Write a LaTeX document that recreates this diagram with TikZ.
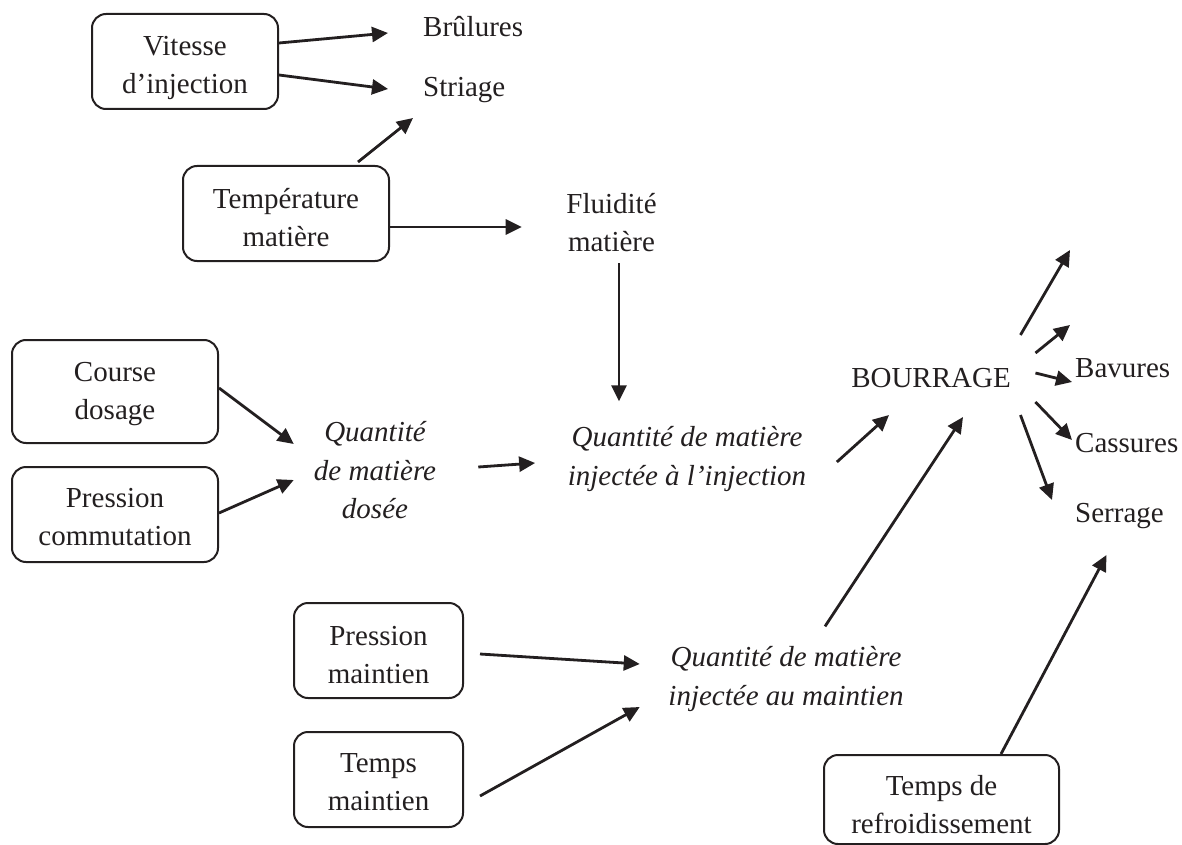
\documentclass[tikz,border=0pt]{standalone}
\usepackage{fontspec}
\setmainfont{Liberation Serif}
\usetikzlibrary{arrows.meta,% filled arrow tips
calc}%                  offsets from node anchors
\definecolor{ink}{HTML}{231F20}
\newcommand\abaisse[1]{\rule{0pt}{#1pt}}% taller first line, text sits lower in its box
\tikzset{every node/.style={font=\fontsize{29}{38.5}\selectfont, text=ink, inner sep=0pt},
  param/.style={draw=ink, line width=2pt, rounded corners=14pt, align=center},
  grandeur/.style={align=center, font=\fontsize{29}{38.5}\selectfont\itshape},
  fleche/.style={draw=ink, line width=2.8pt, -{Triangle[length=16pt,width=15pt]}}}

\begin{document}
\begin{tikzpicture}[x=1pt,y=-1pt]
    \useasboundingbox (0,0) rectangle (1182,845);
    % parametres
    \node[param, minimum width=186pt, minimum height=95pt] (vitesse) at (185,61.5) {\abaisse{31.8}Vitesse\\d’injection};
    \node[param, minimum width=206pt, minimum height=95pt] (temperature) at (286,213.5) {\abaisse{27.8}Température\\matière};
    \node[param, minimum width=206pt, minimum height=103pt] (course) at (115,391.5) {\abaisse{23.8}Course\\dosage};
    \node[param, minimum width=206pt, minimum height=95pt] (commutation) at (115,514.5) {\abaisse{23.8}Pression\\commutation};
    \node[param, minimum width=169pt, minimum height=95pt] (pmaintien) at (378.5,650.5) {\abaisse{27.8}Pression\\maintien};
    \node[param, minimum width=169pt, minimum height=95pt] (tmaintien) at (378.5,779.5) {\abaisse{23.8}Temps\\maintien};
    \node[param, minimum width=235pt, minimum height=89pt] (refroid) at (941.5,799.5) {\abaisse{29.8}Temps de\\refroidissement};
    % grandeurs et defauts
    \node[anchor=base west] (brulures) at (423,37) {Brûlures};
    \node[anchor=base west] (striage) at (423,97) {Striage};
    \node[align=center] (fluidite) at (611.5,222.5) {Fluidité\\matière};
    \node[grandeur] (dosee) at (375,470.5) {Quantité\\de matière\\dosée};
    \node[grandeur] (injection) at (687,459) {Quantité de matière\\injectée à l’injection};
    \node[grandeur] (maintien) at (786,679) {Quantité de matière\\injectée au maintien};
    \node[anchor=base] (bourrage) at (931,387) {BOURRAGE};
    \node[anchor=base west] (bavures) at (1075,377) {Bavures};
    \node[anchor=base west] (cassures) at (1075,452) {Cassures};
    \node[anchor=base west] (serrage) at (1075,522) {Serrage};
    \coordinate (defaut1) at (1070,250);
    \coordinate (defaut2) at (1070,325);
    % haut
    \draw[fleche] ($(vitesse.east)+(0,-18.5)$) -- ($(brulures.base west)+(-35,-4)$);
    \draw[fleche] ($(vitesse.east)+(0,13.5)$) -- ($(striage.base west)+(-35,-8)$);
    \draw[fleche] ($(temperature.north)+(72,-3)$) -- ($(striage.base west)+(-10,21)$);
    \draw[fleche] ($(temperature.east)+(0,13.5)$) -- ($(fluidite.west |- temperature.east)+(-44.5,13.5)$);
    \draw[fleche] ($(fluidite.south)+(7.5,11)$) -- ($(fluidite.south |- injection.north)+(7.5,-25)$);
    % dosage
    \draw[fleche] ($(course.east)+(0,-3.5)$) -- ($(dosee.west)+(-20,-26.5)$);
    \draw[fleche] ($(commutation.east)+(0,-1.5)$) -- ($(dosee.west)+(-20,9.5)$);
    \draw[fleche] ($(dosee.east)+(42,-3.5)$) -- ($(injection.west)+(-32.5,4)$);
    % maintien
    \draw[fleche] ($(pmaintien.east)+(16,3.5)$) -- ($(maintien.west)+(-28.5,-15)$);
    \draw[fleche] ($(tmaintien.east)+(16,16.5)$) -- ($(maintien.west)+(-28.5,28)$);
    % bourrage
    \draw[fleche] ($(injection.east)+(30.5,3)$) -- ($(bourrage.base)+(-42,28)$);
    \draw[fleche] ($(maintien.north)+(39,-20)$) -- ($(bourrage.base)+(32,30)$);
    \draw[fleche] ($(bourrage.base east)+(9.5,-52)$) -- (defaut1);
    \draw[fleche] ($(bourrage.base east)+(24.5,-34)$) -- (defaut2);
    \draw[fleche] ($(bourrage.base east)+(24.5,-14)$) -- ($(bavures.base west)+(-3,5)$);
    \draw[fleche] ($(bourrage.base east)+(24.5,15)$) -- ($(cassures.base west)+(-3,-12)$);
    \draw[fleche] ($(bourrage.base east)+(9.5,28)$) -- ($(serrage.base west)+(-23,-22)$);
    \draw[fleche] ($(refroid.north)+(59.5,0)$) -- ($(serrage.base)+(-13,33)$);
\end{tikzpicture}
\end{document}
